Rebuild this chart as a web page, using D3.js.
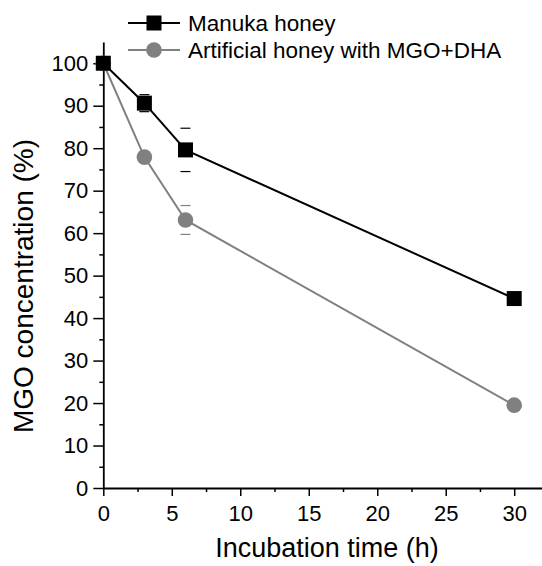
<!DOCTYPE html>
<html>
<head>
<meta charset="utf-8">
<script src="https://cdn.jsdelivr.net/npm/d3@7"></script>
<style>
  body { margin: 0; background: #fff; }
  text { font-family: "Liberation Sans", Arial, sans-serif; }
</style>
</head>
<body>
<div id="wrapper"></div>
<script>
// data
const times = [0, 3, 6, 30];
const manuka = [100, 90.6, 79.6, 44.6];
const manukaErr = [0.8, 2.0, 5.1, 1.2];
const artificial = [100, 77.9, 63.1, 19.5];
const artificialErr = [0.5, 0.4, 3.4, 0.5];
const seriesNames = ["Manuka honey", "Artificial honey with MGO+DHA"];
const xTicks = [0, 5, 10, 15, 20, 25, 30];
const yTicks = [0, 10, 20, 30, 40, 50, 60, 70, 80, 90, 100];

const width = 542, height = 566;
const svg = d3.select("#wrapper").append("svg")
  .attr("width", width).attr("height", height);

const x = d3.scaleLinear().domain([0, 32]).range([103.3, 541.6]);
const y = d3.scaleLinear().domain([0, 105]).range([488, 42]);

// minor ticks
svg.append("g").attr("transform", "translate(0,488)")
  .call(d3.axisBottom(x).tickValues(d3.range(2.5, 32, 5)).tickSize(4).tickFormat(""))
  .call(g => g.select(".domain").remove());
svg.append("g").attr("transform", "translate(103.3,0)")
  .call(d3.axisLeft(y).tickValues(d3.range(5, 105, 10)).tickSize(4).tickFormat(""))
  .call(g => g.select(".domain").remove());

const xAxis = svg.append("g").attr("transform", "translate(0,488)")
  .call(d3.axisBottom(x).tickValues(xTicks).tickSize(8).tickSizeOuter(0).tickPadding(9));
const yAxis = svg.append("g").attr("transform", "translate(103.3,0)")
  .call(d3.axisLeft(y).tickValues(yTicks).tickSize(10).tickSizeOuter(0).tickPadding(5));

svg.selectAll(".tick line").attr("stroke", "#000").attr("stroke-width", 1.5);
svg.selectAll(".domain").attr("stroke", "#000").attr("stroke-width", 1.8);
xAxis.selectAll("text").attr("font-size", 22).attr("fill", "#000")
  .style("font-family", "Liberation Sans, Arial, sans-serif");
yAxis.selectAll("text").attr("font-size", 22).attr("fill", "#000")
  .style("font-family", "Liberation Sans, Arial, sans-serif");

// axis titles
svg.append("text").attr("x", 327).attr("y", 557).attr("text-anchor", "middle")
  .attr("font-size", 27).text("Incubation time (h)");
svg.append("text").attr("transform", "translate(33,286) rotate(-90)")
  .attr("text-anchor", "middle").attr("font-size", 28).text("MGO concentration (%)");

const line = d3.line().x(d => x(d[0])).y(d => y(d[1]));

function drawSeries(vals, errs, color, shape) {
  const pts = times.map((t, i) => [t, vals[i], errs[i]]);
  const g = svg.append("g");
  // error caps
  g.selectAll(".cap").data(pts.flatMap(d => [[d[0], d[1] + d[2]], [d[0], d[1] - d[2]]]))
    .enter().append("line")
    .attr("x1", d => x(d[0]) - 5).attr("x2", d => x(d[0]) + 5)
    .attr("y1", d => y(d[1])).attr("y2", d => y(d[1]))
    .attr("stroke", color).attr("stroke-width", 1.2);
  g.append("path").datum(pts).attr("d", line)
    .attr("fill", "none").attr("stroke", color).attr("stroke-width", 2);
  if (shape === "square") {
    g.selectAll(".m").data(pts).enter().append("rect")
      .attr("x", d => x(d[0]) - 7.5).attr("y", d => y(d[1]) - 7.5)
      .attr("width", 15).attr("height", 15).attr("fill", color);
  } else {
    g.selectAll(".m").data(pts).enter().append("circle")
      .attr("cx", d => x(d[0])).attr("cy", d => y(d[1]))
      .attr("r", 7.8).attr("fill", color);
  }
}

drawSeries(artificial, artificialErr, "#808080", "circle");
drawSeries(manuka, manukaErr, "#000", "square");

// legend
const legend = svg.append("g");
const legendRows = [
  { name: seriesNames[0], color: "#000", shape: "square", y: 23 },
  { name: seriesNames[1], color: "#808080", shape: "circle", y: 50 }
];
legendRows.forEach(r => {
  legend.append("line").attr("x1", 128).attr("x2", 180)
    .attr("y1", r.y).attr("y2", r.y).attr("stroke", r.color).attr("stroke-width", 2);
  if (r.shape === "square") {
    legend.append("rect").attr("x", 146.5).attr("y", r.y - 7.5)
      .attr("width", 15).attr("height", 15).attr("fill", r.color);
  } else {
    legend.append("circle").attr("cx", 154).attr("cy", r.y).attr("r", 7.8).attr("fill", r.color);
  }
  legend.append("text").attr("x", 188).attr("y", r.y + 7.5)
    .attr("font-size", 22.5).text(r.name);
});
</script>
</body>
</html>
